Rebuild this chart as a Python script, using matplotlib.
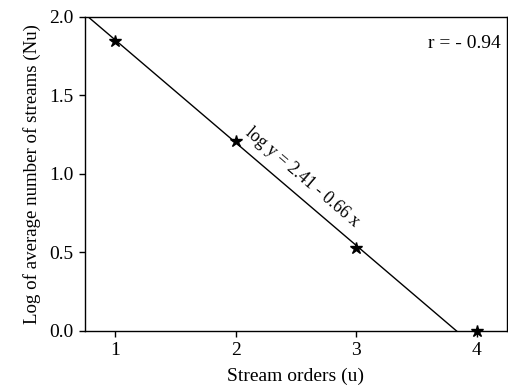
import matplotlib
matplotlib.use("Agg")
import matplotlib.pyplot as plt
import numpy as np

orders = [1, 2, 3, 4]
log_streams = [1.85, 1.21, 0.53, 0.0]
line_intercept = 2.51
line_slope = -0.655
eq_label = "log y = 2.41 - 0.66 x"
r_label = "r = - 0.94"
xticks = [1, 2, 3, 4]
yticks = [0.0, 0.5, 1.0, 1.5, 2.0]

plt.rcParams['font.family'] = ['Liberation Serif', 'DejaVu Serif']

fig = plt.figure(figsize=(5.08, 3.86), dpi=100)
ax = fig.add_axes([0.167, 0.1425, 0.831, 0.8135])

xl = np.array([0.75, 4.25])
yl = line_intercept + line_slope * xl
ax.plot(xl, yl, color='black', lw=1.0, zorder=2)
ax.plot(orders, log_streams, linestyle='none', marker='*', color='black',
        markersize=9, zorder=3, clip_on=False)

ax.set_xlim(0.75, 4.25)
ax.set_ylim(0.0, 2.0)
ax.set_xticks(xticks)
ax.set_xticklabels([str(v) for v in xticks])
ax.set_yticks(yticks)
ax.set_yticklabels([f"{v:.1f}" for v in yticks])
ax.tick_params(direction='out', length=4, width=1, labelsize=14, pad=4)
for s in ax.spines.values():
    s.set_linewidth(1.0)

ax.set_xlabel("Stream orders (u)", fontsize=14, labelpad=6)
ax.set_ylabel("Log of average number of streams (Nu)", fontsize=13.6, labelpad=6)

ax.text(0.985, 0.915, r_label, transform=ax.transAxes, ha='right', va='center', fontsize=14)

# equation label along the line
xm = 2.45
ym = line_intercept + line_slope * xm
p1 = ax.transData.transform((1, line_intercept + line_slope * 1))
p2 = ax.transData.transform((3, line_intercept + line_slope * 3))
ang = np.degrees(np.arctan2(p2[1] - p1[1], p2[0] - p1[0]))
ax.annotate(eq_label, xy=(xm, ym), xytext=(5, 4), textcoords='offset points',
            rotation=ang, rotation_mode='anchor', ha='center', va='bottom', fontsize=12.7)

fig.savefig("out.png", dpi=100)
